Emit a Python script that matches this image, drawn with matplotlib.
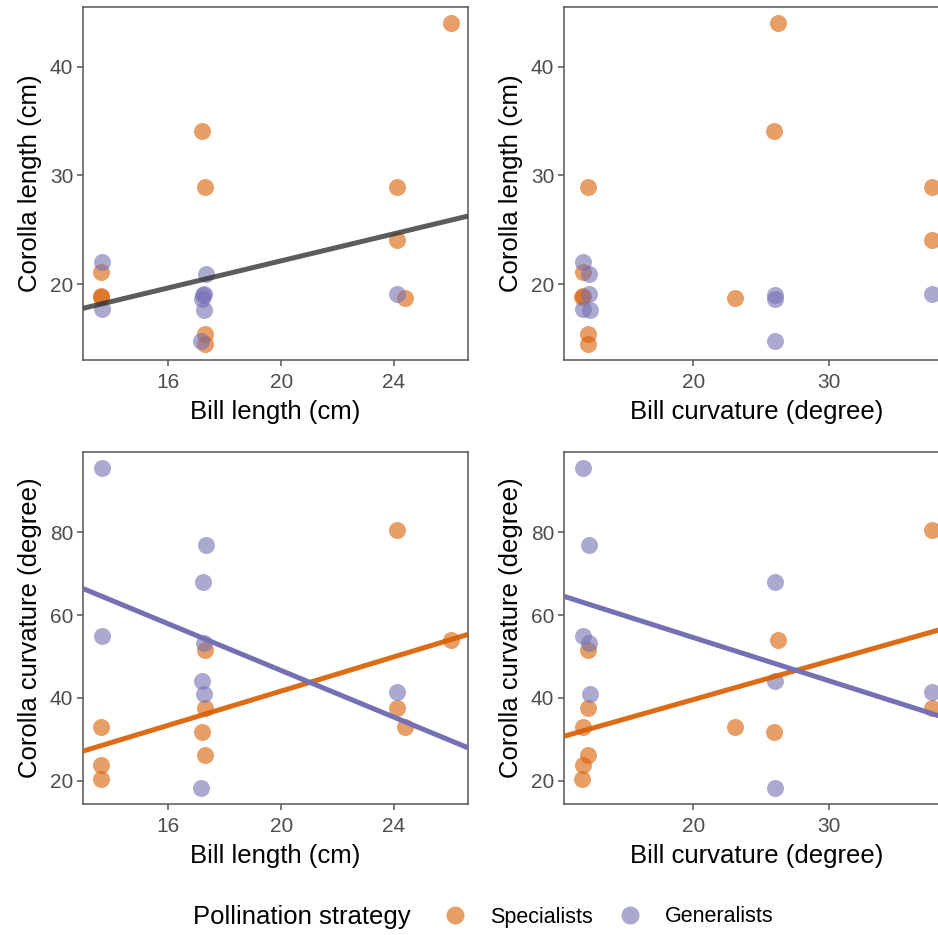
import matplotlib
matplotlib.use("Agg")
import matplotlib.pyplot as plt
from matplotlib.lines import Line2D
import numpy as np

plt.rcParams["font.family"] = ["Liberation Sans", "DejaVu Sans"]

# --- data ------------------------------------------------------------------
# specialists
spec_bill_len = [13.6, 13.6, 13.6, 17.3, 17.3, 17.3, 17.2, 24.1, 24.1, 24.4, 26.0]
spec_bill_curv = [11.9, 11.9, 11.8, 12.3, 12.3, 12.3, 25.9, 37.5, 37.5, 23.1, 26.2]
spec_cor_len = [21.1, 18.9, 18.8, 28.9, 15.4, 14.5, 34.1, 28.9, 24.1, 18.7, 44.0]
spec_cor_curv = [33.0, 23.7, 20.4, 51.5, 37.5, 26.3, 31.8, 80.5, 37.6, 32.9, 53.9]
# generalists
gen_bill_len = [13.65, 13.65, 17.33, 17.28, 17.28, 17.22, 17.2, 17.15, 24.1]
gen_bill_curv = [11.9, 11.9, 12.35, 12.35, 12.45, 26.0, 26.0, 26.0, 37.5]
gen_cor_len = [22.0, 17.7, 20.9, 19.1, 17.6, 19.0, 18.6, 14.8, 19.1]
gen_cor_curv = [95.6, 54.9, 77.0, 53.2, 41.0, 68.1, 44.0, 18.2, 41.3]

# fitted lines (intercept, slope)
fit_all_len = (9.70, 0.622)          # corolla length ~ bill length, all species
fit_spec_len_curv = (0.25, 2.07)     # corolla curvature ~ bill length
fit_gen_len_curv = (103.1, -2.824)
fit_spec_curv_curv = (20.9, 0.934)   # corolla curvature ~ bill curvature
fit_gen_curv_curv = (75.6, -1.05)

ORANGE, PURPLE = "#D95F02", "#7570B3"
W, H = 938, 935
TITLE_FS, TICK_FS = 18.5, 15


def lims(*arrs):
    v = np.concatenate([np.asarray(a, float) for a in arrs])
    r = v.max() - v.min()
    return v.min() - 0.05 * r, v.max() + 0.05 * r


def panel(rect, xs, ys, xlabel, ylabel, fits, xticks, yticks):
    ax = fig.add_axes([rect[0] / W, 1 - rect[3] / H, (rect[1] - rect[0]) / W, (rect[3] - rect[2]) / H])
    ax.set_xlim(lims(*xs)); ax.set_ylim(lims(*ys))
    ax.scatter(xs[0], ys[0], s=150, color=ORANGE, alpha=0.6, lw=0, zorder=2)
    ax.scatter(xs[1], ys[1], s=150, color=PURPLE, alpha=0.6, lw=0, zorder=2)
    xx = np.array(ax.get_xlim())
    for (b0, b1), col, a in fits:
        ax.plot(xx, b0 + b1 * xx, color=col, lw=3.6, alpha=a, zorder=3, solid_capstyle="butt")
    ax.set_xticks(xticks); ax.set_yticks(yticks)
    ax.set_xlim(lims(*xs))
    ax.tick_params(colors="#555555", labelcolor="#4d4d4d", labelsize=TICK_FS, length=4, width=1.1)
    ax.tick_params(axis="x", pad=5)
    ax.tick_params(axis="y", pad=3)
    for s in ax.spines.values():
        s.set_color("#555555"); s.set_linewidth(1.1)
    ax.set_xlabel(xlabel, fontsize=TITLE_FS, labelpad=6)
    ax.set_ylabel(ylabel, fontsize=TITLE_FS, labelpad=6)
    return ax


fig = plt.figure(figsize=(W / 100, H / 100), dpi=100)

panel((83, 468, 7, 360), (spec_bill_len, gen_bill_len), (spec_cor_len, gen_cor_len),
      "Bill length (cm)", "Corolla length (cm)", [(fit_all_len, "#333333", 0.8)],
      [16, 20, 24], [20, 30, 40])
panel((564, 949, 7, 360), (spec_bill_curv, gen_bill_curv), (spec_cor_len, gen_cor_len),
      "Bill curvature (degree)", "Corolla length (cm)", [],
      [20, 30], [20, 30, 40])
panel((83, 468, 452, 804), (spec_bill_len, gen_bill_len), (spec_cor_curv, gen_cor_curv),
      "Bill length (cm)", "Corolla curvature (degree)",
      [(fit_spec_len_curv, ORANGE, 0.92), (fit_gen_len_curv, PURPLE, 1.0)],
      [16, 20, 24], [20, 40, 60, 80])
panel((564, 949, 452, 804), (spec_bill_curv, gen_bill_curv), (spec_cor_curv, gen_cor_curv),
      "Bill curvature (degree)", "Corolla curvature (degree)",
      [(fit_spec_curv_curv, ORANGE, 0.92), (fit_gen_curv_curv, PURPLE, 1.0)],
      [20, 30], [20, 40, 60, 80])

# legend along the bottom
fig.text(193 / W, 1 - 917 / H, "Pollination strategy", fontsize=TITLE_FS, va="center", ha="left")
handles = [Line2D([], [], ls="", marker="o", ms=13, mew=0, color=ORANGE, alpha=0.6),
           Line2D([], [], ls="", marker="o", ms=13, mew=0, color=PURPLE, alpha=0.6)]
fig.legend(handles, ["Specialists", "Generalists"], ncol=2, frameon=False, fontsize=15.5,
           loc="center left", bbox_to_anchor=(444 / W, 1 - 917 / H),
           borderaxespad=0, borderpad=0, handlelength=1.0,
           handletextpad=1.15, columnspacing=1.2)

fig.savefig("out.png", dpi=100)
